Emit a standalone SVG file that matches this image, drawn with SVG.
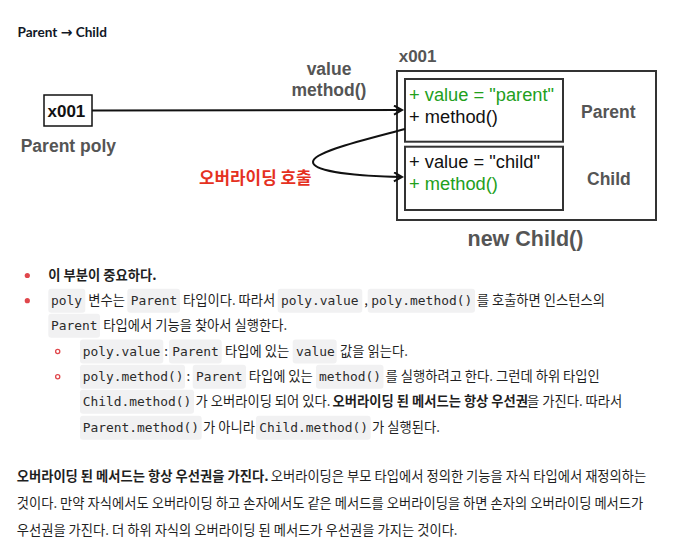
<svg xmlns="http://www.w3.org/2000/svg" width="678" height="550" viewBox="0 0 678 550">
<style>
.lbl{font-family:"Liberation Sans",Arial,sans-serif;font-weight:bold;fill:#555555;font-size:17.5px;}
.mem{font-family:"Liberation Sans",Arial,sans-serif;font-size:18.3px;fill:#111111;}
.grn{fill:#22a01c;}
.box{fill:#ffffff;stroke:#333333;stroke-width:2;}
.kr{font-family:"Noto Sans CJK KR","Noto Sans",sans-serif;font-size:13.3px;fill:#1f1f1f;}
.b{font-weight:bold;}
.code{font-family:"DejaVu Sans Mono","Liberation Mono",monospace;font-size:12.9px;fill:#2b2b2b;}
.cbg{fill:#f1f1f2;}
.conn{fill:none;stroke:#111111;stroke-width:2;}
</style>
<defs>
<marker id="arr" markerWidth="12" markerHeight="12" refX="9" refY="5" orient="auto" markerUnits="userSpaceOnUse">
<path d="M1,0.5 L9,5 L1,9.5" fill="none" stroke="#111111" stroke-width="2"/>
</marker>
</defs>
<rect width="678" height="550" fill="#ffffff"/>

<text x="17.5" y="36.7" font-family="Lato,'DejaVu Sans',sans-serif" font-weight="bold" font-size="13.6px" fill="#111827">Parent <tspan font-family="'DejaVu Sans',sans-serif" font-size="14px">→</tspan> Child</text>

<g id="poly">
<rect x="44" y="95" width="48" height="31" fill="#ffffff" stroke="#111111" stroke-width="1.5"/>
<text class="mem" x="47.5" y="116.5" style="font-size:17px;font-weight:bold">x001</text>
<text class="lbl" x="20.7" y="151.7">Parent poly</text>
</g>

<g id="instance">
<text class="lbl" x="398.7" y="61.7" style="font-size:17px">x001</text>
<rect class="box" x="397" y="71" width="259" height="149"/>
<text class="lbl" x="467.5" y="245.5" style="font-size:21.5px">new Child()</text>
</g>

<g id="parent">
<rect class="box" x="405" y="79" width="158" height="62.7"/>
<text class="mem grn" x="409" y="101">+ value = "parent"</text>
<text class="mem" x="409" y="122.7">+ method()</text>
<text class="lbl" x="581" y="117.7">Parent</text>
</g>

<g id="child">
<rect class="box" x="405" y="146.7" width="158" height="63.3"/>
<text class="mem" x="409" y="168">+ value = "child"</text>
<text class="mem grn" x="409" y="190">+ method()</text>
<text class="lbl" x="587" y="185">Child</text>
</g>

<g id="connectors">
<line class="conn" x1="92" y1="110.5" x2="402" y2="110" marker-end="url(#arr)"/>
<text class="lbl" x="329" y="75" text-anchor="middle">value</text>
<text class="lbl" x="329" y="96" text-anchor="middle">method()</text>
<path class="conn" d="M405,129 C360,141 313,152 313,162 C313,172 360,176 402,177" marker-end="url(#arr)"/>
<text x="199" y="184" font-family="'Noto Sans CJK KR',sans-serif" font-weight="bold" font-size="16.9px" fill="#e5311f">오버라이딩 호출</text>
</g>

<g id="notes">
<circle cx="27.3" cy="275.5" r="2.6" fill="#e0474c"/>
<text class="kr b" x="48.3" y="280.2">이 부분이 중요하다.</text>

<circle cx="27.3" cy="300.7" r="2.6" fill="#e0474c"/>
<rect class="cbg" x="48.3" y="288.7" width="37" height="24" rx="3"/>
<text class="code" x="51" y="305.3">poly</text>
<text class="kr" x="88.3" y="305.2">변수는</text>
<rect class="cbg" x="127.3" y="288.7" width="52.7" height="24" rx="3"/>
<text class="code" x="130.7" y="305.3">Parent</text>
<text class="kr" x="183" y="305.2">타입이다. 따라서</text>
<rect class="cbg" x="277.7" y="288.7" width="84.6" height="24" rx="3"/>
<text class="code" x="281" y="305.3">poly.value</text>
<text class="kr" x="364.3" y="305.2">,</text>
<rect class="cbg" x="367.7" y="288.7" width="107.3" height="24" rx="3"/>
<text class="code" x="371.3" y="305.3">poly.method()</text>
<text class="kr" x="476.7" y="305.2">를 호출하면 인스턴스의</text>

<rect class="cbg" x="48.3" y="313.7" width="51.7" height="24" rx="3"/>
<text class="code" x="51" y="330.3">Parent</text>
<text class="kr" x="103.3" y="330.2">타입에서 기능을 찾아서 실행한다.</text>

<circle cx="57.7" cy="351.5" r="2.1" fill="none" stroke="#e0474c" stroke-width="1.3"/>
<rect class="cbg" x="80" y="339.5" width="83.3" height="24" rx="3"/>
<text class="code" x="82.7" y="356.2">poly.value</text>
<text class="kr" x="164.3" y="356.2">:</text>
<rect class="cbg" x="169" y="339.5" width="52.7" height="24" rx="3"/>
<text class="code" x="172.3" y="356.2">Parent</text>
<text class="kr" x="225" y="356.2">타입에 있는</text>
<rect class="cbg" x="292.7" y="339.5" width="44" height="24" rx="3"/>
<text class="code" x="296" y="356.2">value</text>
<text class="kr" x="340" y="356.2">값을 읽는다.</text>

<circle cx="57.7" cy="376.7" r="2.1" fill="none" stroke="#e0474c" stroke-width="1.3"/>
<rect class="cbg" x="80" y="364.7" width="105" height="24" rx="3"/>
<text class="code" x="82.7" y="381.3">poly.method()</text>
<text class="kr" x="186.5" y="381.2">:</text>
<rect class="cbg" x="192.7" y="364.7" width="53.3" height="24" rx="3"/>
<text class="code" x="196" y="381.3">Parent</text>
<text class="kr" x="248.7" y="381.2">타입에 있는</text>
<rect class="cbg" x="316" y="364.7" width="67.5" height="24" rx="3"/>
<text class="code" x="319" y="381.3">method()</text>
<text class="kr" x="385.5" y="381.2">를 실행하려고 한다. 그런데 하위 타입인</text>

<rect class="cbg" x="80" y="389.7" width="114" height="24" rx="3"/>
<text class="code" x="82.7" y="406.3">Child.method()</text>
<text class="kr" x="195.5" y="406.2">가 오버라이딩 되어 있다.</text>
<text class="kr b" x="332.5" y="406.2">오버라이딩 된 메서드는 항상 우선권</text>
<text class="kr" x="527" y="406.2">을 가진다. 따라서</text>

<rect class="cbg" x="80" y="415.7" width="121.7" height="24" rx="3"/>
<text class="code" x="82.7" y="432.3">Parent.method()</text>
<text class="kr" x="203" y="432.2">가 아니라</text>
<rect class="cbg" x="256" y="415.7" width="114.7" height="24" rx="3"/>
<text class="code" x="259.3" y="432.3">Child.method()</text>
<text class="kr" x="372" y="432.2">가 실행된다.</text>

<text class="kr b" x="16.7" y="481.2">오버라이딩 된 메서드는 항상 우선권을 가진다.</text>
<text class="kr" x="270.7" y="481.2">오버라이딩은 부모 타입에서 정의한 기능을 자식 타입에서 재정의하는</text>
<text class="kr" x="16.7" y="508">것이다. 만약 자식에서도 오버라이딩 하고 손자에서도 같은 메서드를 오버라이딩을 하면 손자의 오버라이딩 메서드가</text>
<text class="kr" x="16.7" y="534.5">우선권을 가진다. 더 하위 자식의 오버라이딩 된 메서드가 우선권을 가지는 것이다.</text>
</g>
</svg>
